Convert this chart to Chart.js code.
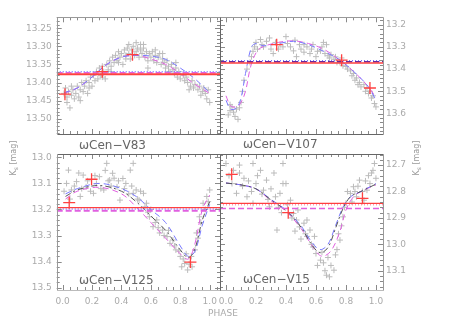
<!DOCTYPE html>
<html><head><meta charset="utf-8">
<script src="https://cdn.jsdelivr.net/npm/chart.js@4"></script>
<style>
body{margin:0;background:#fff;width:471px;height:335px;overflow:hidden;position:relative;font-family:"DejaVu Sans",sans-serif}
canvas{position:absolute;left:0;top:0}
.lbl{position:absolute;color:#666;font-size:12px;line-height:12px;white-space:nowrap}
.yt{position:absolute;color:#999;font-size:8px;white-space:nowrap;transform:translate(-50%,-50%) rotate(-90deg)}
.yt sub{font-size:6px}
.xt{position:absolute;color:#aaa;font-size:9px;transform:translate(-50%,-50%)}
</style></head><body>
<canvas id="c1" width="471" height="335"></canvas>
<canvas id="c2" width="471" height="335"></canvas>
<canvas id="c3" width="471" height="335"></canvas>
<canvas id="c4" width="471" height="335"></canvas>
<div class="lbl" style="left:79px;top:139px">ωCen−V83</div>
<div class="lbl" style="left:243px;top:138px">ωCen−V107</div>
<div class="lbl" style="left:79px;top:274px">ωCen−V125</div>
<div class="lbl" style="left:243px;top:273px">ωCen−V15</div>
<div class="yt" style="left:14px;top:158px">K<sub>s</sub> [mag]</div>
<div class="yt" style="left:417px;top:158px">K<sub>s</sub> [mag]</div>
<div class="xt" style="left:223px;top:313px">PHASE</div>
<script>
// ---- data ----
const v83Points = [[0.01,13.43],[0.02,13.415],[0.03,13.44],[0.04,13.425],[0.05,13.47],[0.06,13.435],[0.07,13.42],[0.08,13.445],[0.09,13.43],[0.10,13.41],[0.11,13.44],[0.12,13.42],[0.13,13.40],[0.14,13.425],[0.15,13.41],[0.16,13.395],[0.17,13.43],[0.18,13.40],[0.19,13.385],[0.20,13.41],[0.21,13.38],[0.22,13.395],[0.23,13.37],[0.24,13.39],[0.25,13.36],[0.26,13.38],[0.27,13.355],[0.28,13.37],[0.29,13.39],[0.30,13.35],[0.31,13.365],[0.32,13.34],[0.33,13.355],[0.34,13.33],[0.35,13.345],[0.36,13.325],[0.37,13.34],[0.38,13.315],[0.39,13.33],[0.40,13.32],[0.41,13.35],[0.42,13.31],[0.43,13.325],[0.44,13.305],[0.45,13.32],[0.46,13.335],[0.47,13.31],[0.48,13.30],[0.49,13.325],[0.50,13.315],[0.51,13.305],[0.52,13.33],[0.53,13.31],[0.54,13.32],[0.55,13.305],[0.56,13.33],[0.57,13.315],[0.58,13.34],[0.59,13.32],[0.60,13.33],[0.61,13.315],[0.62,13.34],[0.63,13.325],[0.64,13.345],[0.65,13.33],[0.66,13.32],[0.67,13.35],[0.68,13.335],[0.69,13.345],[0.70,13.36],[0.71,13.34],[0.72,13.355],[0.73,13.37],[0.74,13.35],[0.75,13.365],[0.76,13.375],[0.77,13.36],[0.78,13.385],[0.79,13.37],[0.80,13.39],[0.82,13.38],[0.83,13.395],[0.84,13.385],[0.85,13.40],[0.87,13.41],[0.88,13.395],[0.89,13.415],[0.90,13.405],[0.92,13.42],[0.93,13.41],[0.95,13.425],[0.96,13.415],[0.97,13.43],[0.98,13.445],[1.00,13.455],[0.99,13.42],[0.03,13.455],[0.12,13.45],[0.50,13.29],[0.45,13.295],[0.55,13.295],[0.06,13.41],[0.18,13.415],[0.27,13.385],[0.33,13.37],[0.38,13.345],[0.43,13.335],[0.53,13.295],[0.58,13.36],[0.63,13.31],[0.68,13.32],[0.72,13.37],[0.77,13.345],[0.86,13.42],[0.94,13.435]];
const v83Red = [[0.016,13.432],[0.27,13.37],[0.475,13.323]];
const v83CurvePhase = [0.01,0.1,0.2,0.3,0.4,0.5,0.6,0.7,0.8,0.9,1.0];
const v83Blue = [13.428,13.415,13.385,13.35,13.33,13.325,13.327,13.336,13.36,13.39,13.428];
const v83Magenta = [13.43,13.415,13.385,13.35,13.33,13.325,13.335,13.35,13.375,13.405,13.43];
const v83Levels = [13.377,13.373,13.370];

const v107Points = [[0.015,13.606],[0.027,13.587],[0.027,13.56],[0.04,13.57],[0.05,13.594],[0.06,13.613],[0.07,13.58],[0.08,13.626],[0.09,13.574],[0.10,13.55],[0.11,13.5],[0.12,13.45],[0.14,13.40],[0.16,13.37],[0.17,13.344],[0.18,13.32],[0.19,13.30],[0.20,13.28],[0.21,13.31],[0.23,13.267],[0.24,13.29],[0.25,13.30],[0.27,13.275],[0.29,13.26],[0.30,13.31],[0.315,13.33],[0.33,13.28],[0.35,13.31],[0.36,13.29],[0.38,13.30],[0.40,13.254],[0.41,13.285],[0.43,13.30],[0.45,13.318],[0.46,13.27],[0.47,13.344],[0.49,13.29],[0.50,13.31],[0.52,13.324],[0.52,13.29],[0.54,13.30],[0.56,13.33],[0.57,13.31],[0.58,13.29],[0.60,13.344],[0.61,13.32],[0.63,13.318],[0.64,13.30],[0.65,13.28],[0.66,13.33],[0.67,13.29],[0.68,13.34],[0.69,13.35],[0.70,13.335],[0.72,13.356],[0.73,13.345],[0.74,13.37],[0.76,13.37],[0.77,13.35],[0.78,13.385],[0.80,13.388],[0.81,13.40],[0.83,13.408],[0.84,13.43],[0.85,13.42],[0.86,13.45],[0.87,13.44],[0.88,13.47],[0.89,13.46],[0.90,13.48],[0.92,13.47],[0.93,13.50],[0.94,13.485],[0.95,13.51],[0.96,13.50],[0.97,13.53],[0.98,13.52],[0.99,13.555],[1.0,13.57]];
const v107Red = [[0.338,13.29],[0.771,13.36],[0.96,13.485]];
const v107BluePhase = [0.0,0.03,0.07,0.10,0.13,0.17,0.2,0.25,0.35,0.45,0.55,0.65,0.75,0.85,0.95,1.0];
const v107Blue = [13.54,13.58,13.575,13.53,13.42,13.30,13.285,13.295,13.285,13.275,13.29,13.32,13.355,13.41,13.48,13.54];
const v107MagentaPhase = [0.0,0.03,0.07,0.10,0.13,0.16,0.19,0.23,0.35,0.45,0.55,0.65,0.75,0.85,0.95,1.0];
const v107Magenta = [13.52,13.565,13.57,13.55,13.5,13.40,13.34,13.305,13.28,13.273,13.285,13.31,13.355,13.41,13.48,13.53];
const v107Levels = [13.373,13.367,13.362];

const v125Points = [[0.01,13.13],[0.027,13.10],[0.04,13.049],[0.05,13.16],[0.06,13.125],[0.08,13.11],[0.095,13.093],[0.11,13.06],[0.12,13.15],[0.13,13.12],[0.14,13.068],[0.16,13.113],[0.17,13.09],[0.19,13.13],[0.21,13.138],[0.22,13.07],[0.23,13.10],[0.25,13.074],[0.26,13.12],[0.28,13.125],[0.29,13.05],[0.30,13.023],[0.31,13.09],[0.32,13.087],[0.33,13.11],[0.34,13.061],[0.35,13.08],[0.37,13.113],[0.38,13.09],[0.39,13.164],[0.41,13.081],[0.42,13.12],[0.43,13.10],[0.45,13.14],[0.46,13.049],[0.47,13.11],[0.48,13.023],[0.48,13.138],[0.50,13.125],[0.51,13.16],[0.52,13.164],[0.53,13.13],[0.55,13.138],[0.56,13.19],[0.57,13.176],[0.58,13.21],[0.59,13.228],[0.60,13.20],[0.615,13.266],[0.63,13.25],[0.64,13.24],[0.65,13.27],[0.66,13.29],[0.68,13.279],[0.69,13.30],[0.71,13.304],[0.72,13.28],[0.73,13.33],[0.75,13.317],[0.76,13.34],[0.77,13.355],[0.79,13.36],[0.80,13.38],[0.81,13.42],[0.82,13.39],[0.83,13.407],[0.84,13.37],[0.85,13.432],[0.86,13.41],[0.875,13.38],[0.88,13.42],[0.90,13.355],[0.91,13.29],[0.92,13.31],[0.93,13.228],[0.94,13.25],[0.955,13.176],[0.97,13.20],[0.98,13.15],[0.99,13.17],[1.0,13.125]];
const v125Red = [[0.045,13.174],[0.197,13.084],[0.869,13.402]];
const v125CurvePhase = [0.02,0.1,0.25,0.4,0.5,0.6,0.7,0.8,0.855,0.9,0.95,1.0];
const v125Blue = [13.14,13.12,13.10,13.12,13.15,13.20,13.25,13.34,13.38,13.36,13.26,13.18];
const v125Magenta = [13.16,13.13,13.115,13.14,13.19,13.25,13.31,13.37,13.39,13.33,13.2,13.145];
const v125Black = [13.15,13.125,13.108,13.13,13.17,13.225,13.28,13.355,13.385,13.35,13.24,13.17];
const v125Levels = [13.193,13.198,13.205];

const v15Points = [[0.0,12.694],[0.02,12.74],[0.04,12.77],[0.05,12.72],[0.07,12.807],[0.09,12.73],[0.09,12.70],[0.11,12.78],[0.12,12.75],[0.14,12.82],[0.15,12.76],[0.17,12.80],[0.18,12.694],[0.18,12.845],[0.20,12.77],[0.21,12.74],[0.23,12.72],[0.24,12.81],[0.25,12.795],[0.27,12.757],[0.28,12.83],[0.29,12.858],[0.30,12.79],[0.32,12.73],[0.33,12.82],[0.34,12.946],[0.35,12.86],[0.36,12.807],[0.37,12.88],[0.38,12.694],[0.38,12.77],[0.40,12.77],[0.41,12.85],[0.43,12.833],[0.44,12.90],[0.45,12.883],[0.46,12.95],[0.47,12.908],[0.48,12.87],[0.49,12.934],[0.50,12.98],[0.52,12.92],[0.53,12.96],[0.54,12.97],[0.54,12.908],[0.56,12.946],[0.57,13.00],[0.58,13.01],[0.59,12.97],[0.60,13.035],[0.61,13.08],[0.63,13.06],[0.64,13.03],[0.65,13.07],[0.66,13.10],[0.67,13.117],[0.68,13.05],[0.69,13.123],[0.70,13.08],[0.72,13.098],[0.73,13.04],[0.74,13.02],[0.75,12.96],[0.76,12.984],[0.77,12.93],[0.78,12.896],[0.79,12.86],[0.80,12.845],[0.81,12.80],[0.83,12.807],[0.84,12.84],[0.85,12.782],[0.86,12.80],[0.87,12.82],[0.88,12.78],[0.89,12.757],[0.91,12.80],[0.92,12.833],[0.93,12.76],[0.94,12.795],[0.95,12.74],[0.96,12.77],[0.97,12.73],[0.98,12.72],[0.99,12.694],[1.0,12.75]];
const v15Red = [[0.038,12.735],[0.415,12.88],[0.91,12.826]];
const v15BluePhase = [0.0,0.1,0.2,0.3,0.4,0.5,0.57,0.627,0.68,0.73,0.78,0.83,0.9,1.0];
const v15Blue = [12.768,12.775,12.79,12.83,12.87,12.93,12.99,13.02,13.0,12.93,12.86,12.82,12.80,12.77];
const v15MagentaPhase = [0.0,0.1,0.2,0.3,0.4,0.5,0.58,0.638,0.7,0.76,0.8,0.85,0.9,1.0];
const v15Magenta = [12.768,12.775,12.79,12.835,12.875,12.94,13.01,13.045,13.025,12.95,12.87,12.82,12.80,12.775];
const v15Black = [12.768,12.775,12.79,12.832,12.872,12.935,13.0,13.032,13.012,12.94,12.865,12.82,12.80,12.772];
const v15Levels = [12.845,12.850,12.864];

// ---- styles ----
const BLUE = '#7878ff', MAG = '#e060e0', BLK = '#555555', RED = '#ff4040';
const pts = a => a.map(p => ({x:p[0], y:p[1]}));
const zip = (xs, ys) => xs.map((x,i) => ({x, y: ys[i]}));
const gray = a => ({data: pts(a), pointStyle:'cross', pointRadius:3, borderColor:'#bcbcbc', borderWidth:1, showLine:false});
const red = a => ({data: pts(a), pointStyle:'cross', pointRadius:6, borderColor:RED, borderWidth:1.3, showLine:false});
const curve = (xs, ys, color, dash) => ({data: zip(xs, ys), showLine:true, pointRadius:0, borderColor:color, borderWidth:1, borderDash:dash, tension:0.35, fill:false});
const level = (v, xr, color, dash, w) => ({data:[{x:xr[0],y:v},{x:xr[1],y:v}], showLine:true, pointRadius:0, borderColor:color, borderWidth:w, borderDash:dash});

const XL = [-0.04, 1.07], XR = [-0.04, 1.047];
const panels = [
  {id:'c1', xr:XL, yr:[13.22,13.542], step:0.05, minor:0.01, dec:2, side:'left', area:{l:56.7,r:220,t:17.3,b:154}, showX:false,
   edges:{top:'#999',left:'#999',right:'#666',bottom:'#666'},
   datasets:[red(v83Red),
     level(v83Levels[0], XL, RED, [], 2), level(v83Levels[1], XL, MAG, [6,3], 1.5), level(v83Levels[2], XL, BLUE, [1,2], 1.5),
     curve(v83CurvePhase, v83Blue, BLUE, [6,4]), curve(v83CurvePhase, v83Magenta, MAG, [6,4]), gray(v83Points)]},
  {id:'c2', xr:XR, yr:[13.167,13.692], step:0.1, minor:0.02, dec:1, side:'right', area:{l:220,r:383,t:17.3,b:154}, showX:false,
   edges:{top:'#999',left:'#666',right:'#999',bottom:'#666'},
   datasets:[red(v107Red),
     level(v107Levels[0], XR, RED, [], 1.5), level(v107Levels[1], XR, '#6a2a9a', [6,3], 1.5), level(v107Levels[2], XR, BLUE, [1,2], 1.5),
     curve(v107BluePhase, v107Blue, BLUE, [6,4]), curve(v107MagentaPhase, v107Magenta, MAG, [6,4]), gray(v107Points)]},
  {id:'c3', xr:XL, yr:[12.987,13.509], step:0.1, minor:0.02, dec:1, side:'left', area:{l:56.7,r:220,t:154,b:290}, showX:true,
   edges:{top:'#666',left:'#999',right:'#666',bottom:'#bbb'},
   datasets:[red(v125Red),
     level(v125Levels[0], XL, RED, [], 1.2), level(v125Levels[1], XL, BLUE, [1,2], 1.5), level(v125Levels[2], XL, MAG, [6,3], 2),
     curve(v125CurvePhase, v125Black, BLK, [6,3,2,3]), curve(v125CurvePhase, v125Blue, BLUE, [6,4]), curve(v125CurvePhase, v125Magenta, MAG, [6,4]), gray(v125Points)]},
  {id:'c4', xr:XR, yr:[12.658,13.173], step:0.1, minor:0.02, dec:1, side:'right', area:{l:220,r:383,t:154,b:290}, showX:true,
   edges:{top:'#666',left:'#666',right:'#999',bottom:'#bbb'},
   datasets:[red(v15Red),
     level(v15Levels[0], XR, RED, [], 1.2), level(v15Levels[1], XR, '#ff9bb0', [1,2], 1.5), level(v15Levels[2], XR, MAG, [6,3], 1.5),
     curve(v15BluePhase, v15Black, BLK, [6,3,2,3]), curve(v15BluePhase, v15Blue, BLUE, [6,4]), curve(v15MagentaPhase, v15Magenta, MAG, [6,4]), gray(v15Points)]}
];

const frame = {
  id:'frame',
  afterDatasetsDraw(chart, args, opts) {
    const {ctx, chartArea:a, scales} = chart;
    const p = opts.panel;
    ctx.save();
    ctx.lineWidth = 1;
    ctx.strokeStyle = '#8a8a8a';
    for (let i = 0; i <= 21; i++) {
      const v = i * 0.05;
      if (v < p.xr[0] || v > p.xr[1]) continue;
      const x = Math.round(scales.x.getPixelForValue(v)) + 0.5;
      const len = (i % 4 === 0) ? 5 : 3;
      ctx.beginPath();
      ctx.moveTo(x, a.top); ctx.lineTo(x, a.top + len);
      ctx.moveTo(x, a.bottom); ctx.lineTo(x, a.bottom - len);
      ctx.stroke();
    }
    const lo = Math.ceil(p.yr[0] / p.minor - 1e-6), hi = Math.floor(p.yr[1] / p.minor + 1e-6);
    const per = Math.round(p.step / p.minor);
    for (let k = lo; k <= hi; k++) {
      const y = Math.round(scales.y.getPixelForValue(k * p.minor)) + 0.5;
      const len = (k % per === 0) ? 5 : 3;
      ctx.beginPath();
      ctx.moveTo(a.left, y); ctx.lineTo(a.left + len, y);
      ctx.moveTo(a.right, y); ctx.lineTo(a.right - len, y);
      ctx.stroke();
    }
    const e = p.edges;
    const L = Math.round(a.left)+0.5, R = Math.round(a.right)+0.5, T = Math.round(a.top)+0.5, B = Math.round(a.bottom)+0.5;
    const seg = (c, x1, y1, x2, y2) => { ctx.strokeStyle = c; ctx.beginPath(); ctx.moveTo(x1,y1); ctx.lineTo(x2,y2); ctx.stroke(); };
    seg(e.top, L, T, R, T); seg(e.bottom, L, B, R, B); seg(e.left, L, T, L, B); seg(e.right, R, T, R, B);
    ctx.restore();
  }
};

const YW = 40, XH = 20, W = 471, H = 335;
const tickFont = {family:'DejaVu Sans', size:9};
panels.forEach(p => {
  const a = p.area;
  const pad = {
    top: a.t,
    left: p.side === 'left' ? a.l - YW : a.l,
    right: p.side === 'right' ? W - a.r - YW : W - a.r,
    bottom: p.showX ? H - a.b - XH : H - a.b
  };
  new Chart(document.getElementById(p.id), {
    type:'scatter',
    data:{datasets:p.datasets},
    options:{
      responsive:false, animation:false, events:[],
      layout:{padding:pad},
      plugins:{legend:{display:false}, tooltip:{enabled:false}, frame:{panel:p}},
      scales:{
        x:{type:'linear', min:p.xr[0], max:p.xr[1], display:p.showX,
           grid:{display:false, drawTicks:false}, border:{display:false},
           ticks:{stepSize:0.2, includeBounds:false, autoSkip:false, maxRotation:0, color:'#aaa', font:tickFont, padding:6,
                  callback:v => v.toFixed(1)},
           afterFit:s => { s.height = XH; s.paddingLeft = 0; s.paddingRight = 0; }},
        y:{type:'linear', position:p.side, reverse:true, min:p.yr[0], max:p.yr[1],
           grid:{display:false, drawTicks:false}, border:{display:false},
           ticks:{stepSize:p.step, includeBounds:false, autoSkip:false, color:'#aaa', font:tickFont, padding:p.side==='left'?5:3,
                  callback:v => v.toFixed(p.dec)},
           afterFit:s => { s.width = YW; s.paddingTop = 0; s.paddingBottom = 0; }}
      }
    },
    plugins:[frame]
  });
});
</script>
</body></html>
